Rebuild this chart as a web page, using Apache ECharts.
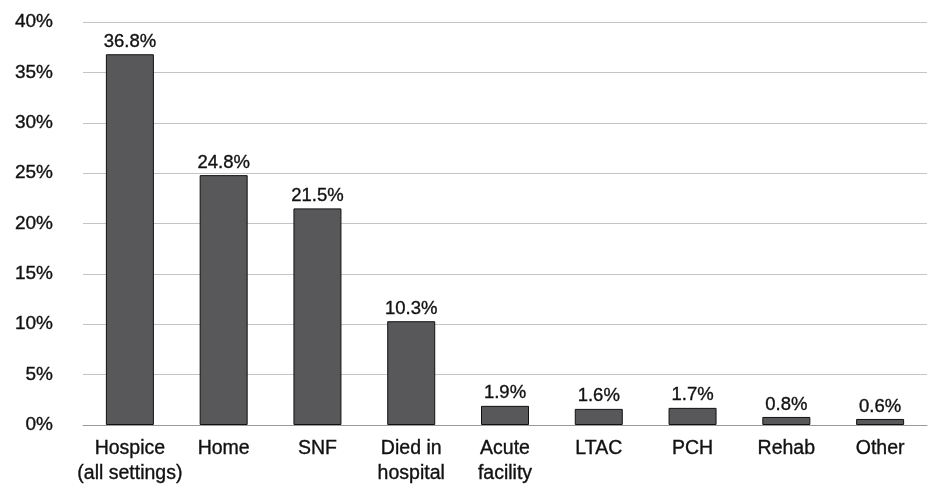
<!DOCTYPE html>
<html>
<head>
<meta charset="utf-8">
<script src="https://cdn.jsdelivr.net/npm/echarts@6/dist/echarts.min.js"></script>
<style>
  html, body { margin: 0; padding: 0; background: #fff; }
  #chart { width: 931px; height: 484px; }
</style>
</head>
<body>
<div id="chart"></div>
<script>
// Discharge destinations and their shares (%)
const categories = ['Hospice\n(all settings)', 'Home', 'SNF', 'Died in\nhospital', 'Acute\nfacility', 'LTAC', 'PCH', 'Rehab', 'Other'];
const shares = [36.8, 24.8, 21.5, 10.3, 1.9, 1.6, 1.7, 0.8, 0.6];
const yTicks = { min: 0, max: 40, step: 5 };

const fontFamily = '"Liberation Sans", Arial, Helvetica, sans-serif';
// slightly heavier than regular text
const textStyle = {
  color: '#111',
  fontFamily: fontFamily,
  textBorderColor: '#111',
  textBorderWidth: 0.35
};

const chart = echarts.init(document.getElementById('chart'));
chart.setOption({
  animation: false,
  grid: { left: 83, right: 4, top: 22, bottom: 59, outerBoundsMode: 'none', containLabel: false },
  xAxis: {
    type: 'category',
    data: categories,
    axisTick: { show: false },
    axisLine: { lineStyle: { color: '#9a9a9a', width: 1 } },
    axisLabel: Object.assign({}, textStyle, {
      fontSize: 19.5,
      lineHeight: 25,
      margin: 11,
      interval: 0
    })
  },
  yAxis: {
    type: 'value',
    min: yTicks.min,
    max: yTicks.max,
    interval: yTicks.step,
    axisLine: { show: false },
    axisTick: { show: false },
    splitLine: { lineStyle: { color: '#c4c4c4', width: 1 } },
    axisLabel: Object.assign({}, textStyle, {
      fontSize: 19,
      margin: 30,
      formatter: v => v + '%'
    })
  },
  series: [{
    type: 'bar',
    data: shares,
    barWidth: 48,
    itemStyle: { color: '#58585a', borderColor: '#111', borderWidth: 1 },
    label: Object.assign({}, textStyle, {
      show: true,
      fontSize: 18.5,
      position: 'top',
      distance: 3,
      formatter: p => p.value.toFixed(1) + '%'
    })
  }]
});
</script>
</body>
</html>
